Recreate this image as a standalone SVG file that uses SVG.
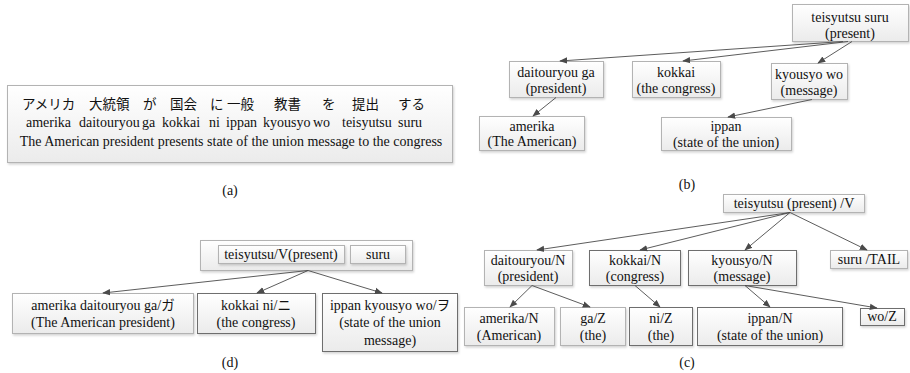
<svg xmlns="http://www.w3.org/2000/svg" width="910" height="373" viewBox="0 0 910 373">
<defs>
<linearGradient id="g" x1="0" y1="0" x2="0" y2="1">
<stop offset="0" stop-color="#ffffff"/>
<stop offset="1" stop-color="#ebebeb"/>
</linearGradient>
<filter id="sh" x="-10%" y="-10%" width="130%" height="140%">
<feDropShadow dx="1" dy="1.5" stdDeviation="0.8" flood-color="#000" flood-opacity="0.18"/>
</filter>
<marker id="ah" viewBox="0 0 10 10" refX="9" refY="5" markerWidth="8" markerHeight="8" markerUnits="userSpaceOnUse" orient="auto">
<path d="M0,1 L10,5 L0,9 z" fill="#4a4a4a"/>
</marker>
</defs>
<style>
text{font-family:"Liberation Serif","Times New Roman",serif;font-size:14px;fill:#111}
.jp{font-family:"Noto Sans CJK JP","Liberation Serif",sans-serif;font-size:13.5px}
.c{text-anchor:middle}
.lb{fill:url(#g);stroke:#b3b3b3;stroke-width:1;filter:url(#sh)}
.dk{fill:url(#g);stroke:#6e6e6e;stroke-width:1;filter:url(#sh)}
.ln{stroke:#4a4a4a;stroke-width:0.9;fill:none;marker-end:url(#ah)}
</style>
<rect width="910" height="373" fill="#fff"/>

<!-- (a) -->
<g id="a-sentence">
<rect class="lb" x="7.5" y="85.5" width="445" height="77"/>
<text class="jp" x="22" y="109">アメリカ</text>
<text class="jp" x="89" y="109">大統領</text>
<text class="jp" x="143" y="109">が</text>
<text class="jp" x="170" y="109">国会</text>
<text class="jp" x="210" y="109">に</text>
<text class="jp" x="227" y="109">一般</text>
<text class="jp" x="274" y="109">教書</text>
<text class="jp" x="322" y="109">を</text>
<text class="jp" x="352" y="109">提出</text>
<text class="jp" x="398" y="109">する</text>
<text x="26" y="127">amerika</text>
<text x="79" y="127">daitouryou</text>
<text x="142" y="127">ga</text>
<text x="162" y="127">kokkai</text>
<text x="209" y="127">ni</text>
<text x="226" y="127">ippan</text>
<text x="263" y="127">kyousyo</text>
<text x="313" y="127">wo</text>
<text x="342" y="127">teisyutsu</text>
<text x="398" y="127">suru</text>
<text class="c" x="231" y="146">The American president presents state of the union message to the congress</text>
</g>
<text id="label-a" class="c" x="230" y="195">(a)</text>

<!-- (b) -->
<g id="b-root"><rect class="lb" x="792.5" y="4.5" width="116" height="37"/><text class="c" x="850" y="22">teisyutsu suru</text><text class="c" x="850" y="38">(present)</text></g>
<g id="b-daitouryou"><rect class="lb" x="509.5" y="61.5" width="94" height="36"/><text class="c" x="556" y="77">daitouryou ga</text><text class="c" x="556" y="93">(president)</text></g>
<g id="b-kokkai"><rect class="lb" x="632.5" y="61.5" width="88" height="36"/><text class="c" x="676" y="77">kokkai</text><text class="c" x="676" y="93">(the congress)</text></g>
<g id="b-kyousyo"><rect class="lb" x="771.5" y="63.5" width="76" height="36"/><text class="c" x="809" y="79">kyousyo wo</text><text class="c" x="809" y="95">(message)</text></g>
<g id="b-amerika"><rect class="lb" x="479.5" y="116.5" width="105" height="34"/><text class="c" x="532" y="131">amerika</text><text class="c" x="532" y="146">(The American)</text></g>
<g id="b-ippan"><rect class="lb" x="661.5" y="117.5" width="130" height="33"/><text class="c" x="726" y="131">ippan</text><text class="c" x="726" y="147">(state of the union)</text></g>
<text id="label-b" class="c" x="687" y="189">(b)</text>

<!-- (c) -->
<g id="c-root"><rect class="lb" x="723.5" y="194.5" width="141" height="18"/><text class="c" x="794" y="208">teisyutsu (present) /V</text></g>
<g id="c-daitouryou"><rect class="lb" x="484.5" y="250.5" width="88" height="35"/><text class="c" x="528" y="265">daitouryou/N</text><text class="c" x="528" y="281">(president)</text></g>
<g id="c-kokkai"><rect class="dk" x="589.5" y="250.5" width="91" height="35"/><text class="c" x="635" y="265">kokkai/N</text><text class="c" x="635" y="281">(congress)</text></g>
<g id="c-kyousyo"><rect class="dk" x="688.5" y="250.5" width="108" height="35"/><text class="c" x="742" y="265">kyousyo/N</text><text class="c" x="742" y="281">(message)</text></g>
<g id="c-suru"><rect class="lb" x="830.5" y="250.5" width="77" height="18"/><text class="c" x="869" y="264">suru /TAIL</text></g>
<g id="c-amerika"><rect class="lb" x="464.5" y="307.5" width="90" height="38"/><text class="c" x="509" y="323">amerika/N</text><text class="c" x="509" y="340">(American)</text></g>
<g id="c-ga"><rect class="lb" x="560.5" y="307.5" width="65" height="38"/><text class="c" x="593" y="323">ga/Z</text><text class="c" x="593" y="340">(the)</text></g>
<g id="c-ni"><rect class="dk" x="629.5" y="307.5" width="63" height="38"/><text class="c" x="661" y="323">ni/Z</text><text class="c" x="661" y="340">(the)</text></g>
<g id="c-ippan"><rect class="dk" x="697.5" y="307.5" width="145" height="38"/><text class="c" x="770" y="323">ippan/N</text><text class="c" x="770" y="340">(state of the union)</text></g>
<g id="c-wo"><rect class="dk" x="860.5" y="308.5" width="44" height="17"/><text class="c" x="882" y="321">wo/Z</text></g>
<text id="label-c" class="c" x="687" y="367">(c)</text>

<!-- (d) -->
<g id="d-root">
<rect class="lb" x="200.5" y="240.5" width="212" height="30"/>
<rect class="lb" x="218.5" y="245.5" width="126" height="18"/>
<text class="c" x="281" y="259">teisyutsu/V(present)</text>
<rect class="lb" x="350.5" y="245.5" width="55" height="18"/>
<text class="c" x="378" y="259">suru</text>
</g>
<g id="d-amerika"><rect class="lb" x="12.5" y="293.5" width="181" height="40"/><text class="c" x="103" y="310">amerika daitouryou ga/<tspan class="jp">ガ</tspan></text><text class="c" x="103" y="327">(The American president)</text></g>
<g id="d-kokkai"><rect class="dk" x="197.5" y="293.5" width="118" height="40"/><text class="c" x="256" y="310">kokkai ni/<tspan class="jp">ニ</tspan></text><text class="c" x="256" y="327">(the congress)</text></g>
<g id="d-ippan"><rect class="dk" x="322.5" y="293.5" width="135" height="58"/><text class="c" x="390" y="310">ippan kyousyo wo/<tspan class="jp">ヲ</tspan></text><text class="c" x="390" y="327">(state of the union</text><text class="c" x="390" y="345">message)</text></g>
<text id="label-d" class="c" x="230" y="367">(d)</text>

<g id="connectors">
<line class="ln" x1="843" y1="41.5" x2="560" y2="61"/>
<line class="ln" x1="848" y1="41.5" x2="683" y2="61"/>
<line class="ln" x1="852" y1="41.5" x2="818" y2="63"/>
<line class="ln" x1="556" y1="97.5" x2="533" y2="116"/>
<line class="ln" x1="812" y1="99.5" x2="728" y2="117"/>

<line class="ln" x1="790" y1="212.5" x2="537" y2="250"/>
<line class="ln" x1="790" y1="212.5" x2="640" y2="250"/>
<line class="ln" x1="790" y1="212.5" x2="745" y2="250"/>
<line class="ln" x1="790" y1="212.5" x2="867" y2="250"/>
<line class="ln" x1="532" y1="285.5" x2="510" y2="307"/>
<line class="ln" x1="532" y1="285.5" x2="590" y2="307"/>
<line class="ln" x1="635" y1="285.5" x2="660" y2="307"/>
<line class="ln" x1="745" y1="285.5" x2="770" y2="307"/>
<line class="ln" x1="745" y1="285.5" x2="877" y2="308"/>

<line class="ln" x1="308" y1="270.5" x2="103" y2="293"/>
<line class="ln" x1="308" y1="270.5" x2="257" y2="293"/>
<line class="ln" x1="308" y1="270.5" x2="382" y2="293"/>
</g>
</svg>
